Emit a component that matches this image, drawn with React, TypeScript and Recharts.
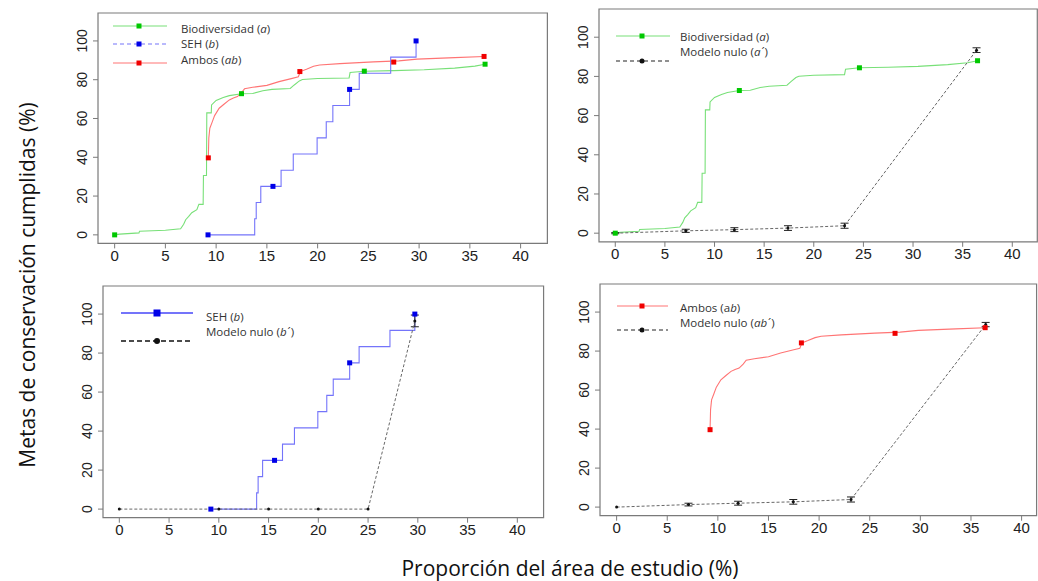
import React from 'react';
import { ComposedChart, Line, XAxis, YAxis, ReferenceArea, ErrorBar } from 'recharts';

// ---------- data ----------
const xTicks = [0, 5, 10, 15, 20, 25, 30, 35, 40];
const yTicks = [0, 20, 40, 60, 80, 100];

// Biodiversidad (a) curve
const biodiversidad = [
  { x: 0, y: 0 }, { x: 0.5, y: 0.4 }, { x: 2.4, y: 1 }, { x: 2.45, y: 1.9 }, { x: 5, y: 2.4 },
  { x: 6.5, y: 3.1 }, { x: 6.8, y: 5.5 }, { x: 7.0, y: 7.8 }, { x: 7.3, y: 9.5 }, { x: 7.6, y: 11.4 },
  { x: 8.1, y: 13 }, { x: 8.3, y: 15.7 }, { x: 8.72, y: 15.7 }, { x: 8.75, y: 30.6 }, { x: 9.05, y: 30.6 },
  { x: 9.08, y: 62.9 }, { x: 9.52, y: 62.9 }, { x: 9.55, y: 67 }, { x: 10, y: 69.3 }, { x: 10.7, y: 70.8 },
  { x: 11.3, y: 71.8 }, { x: 12.5, y: 72.8 }, { x: 13.6, y: 72.9 }, { x: 14.6, y: 74.3 }, { x: 15.5, y: 75 },
  { x: 17.3, y: 75.5 }, { x: 17.7, y: 77.3 }, { x: 18.2, y: 79.4 }, { x: 18.5, y: 80.1 }, { x: 20, y: 80.6 },
  { x: 23.1, y: 80.9 }, { x: 23.2, y: 83.7 }, { x: 24.6, y: 84.4 }, { x: 27.5, y: 84.7 }, { x: 30.5, y: 85.1 },
  { x: 33.5, y: 86 }, { x: 35.5, y: 87 }, { x: 36.5, y: 88 },
];
const biodiversidadMarks = [
  { x: 0, y: 0 }, { x: 12.5, y: 72.8 }, { x: 24.6, y: 84.4 }, { x: 36.5, y: 88 },
];

// SEH (b) step curve
const seh = [
  { x: 9.2, y: 0 }, { x: 13.8, y: 8.33 }, { x: 13.95, y: 16.67 }, { x: 14.4, y: 25 }, { x: 16.4, y: 33.33 },
  { x: 17.6, y: 41.67 }, { x: 19.95, y: 50 }, { x: 20.85, y: 58.33 }, { x: 21.5, y: 66.67 }, { x: 23.15, y: 75 },
  { x: 24.1, y: 83.33 }, { x: 27.2, y: 91.67 }, { x: 29.7, y: 100 },
];
const sehMarks = [
  { x: 9.2, y: 0 }, { x: 15.6, y: 25 }, { x: 23.15, y: 75 }, { x: 29.7, y: 100 },
];

// Ambos (ab) curve
const ambos = [
  { x: 9.23, y: 39.7 }, { x: 9.28, y: 50 }, { x: 9.38, y: 55 }, { x: 9.6, y: 58 }, { x: 9.85, y: 61.5 },
  { x: 10.3, y: 65.3 }, { x: 10.8, y: 67.5 }, { x: 11.3, y: 69.6 }, { x: 11.7, y: 70.6 }, { x: 12.1, y: 71.3 },
  { x: 12.5, y: 73.3 }, { x: 12.8, y: 75.3 }, { x: 13.6, y: 76.1 }, { x: 15, y: 77.1 }, { x: 16.2, y: 79 },
  { x: 17.5, y: 80.7 }, { x: 18.1, y: 81.5 }, { x: 18.3, y: 84.2 }, { x: 18.9, y: 85.4 }, { x: 19.6, y: 86.9 },
  { x: 20.2, y: 87.6 }, { x: 22.2, y: 88.3 }, { x: 25.5, y: 89.2 }, { x: 28, y: 89.7 }, { x: 29.8, y: 90.6 },
  { x: 33.5, y: 91.4 }, { x: 36.4, y: 92 },
];
const ambosMarks = [
  { x: 9.23, y: 39.7 }, { x: 18.25, y: 84.2 }, { x: 27.5, y: 89.1 }, { x: 36.4, y: 92 },
];

// Null models with error (e)
const nuloA = [
  { x: 0, y: 0, e: 0.3 }, { x: 7.1, y: 1.2, e: 0.8 }, { x: 12, y: 1.8, e: 1 },
  { x: 17.4, y: 2.6, e: 1.2 }, { x: 23.1, y: 3.8, e: 1.3 }, { x: 36.4, y: 93.4, e: 1.2 },
];
const nuloB = [
  { x: 0, y: 0, e: 0 }, { x: 10, y: 0, e: 0 }, { x: 15, y: 0, e: 0 },
  { x: 20, y: 0, e: 0 }, { x: 25, y: 0, e: 0 }, { x: 29.7, y: 96.5, e: 3 },
];
const nuloAB = [
  { x: 0, y: 0, e: 0 }, { x: 7.1, y: 1.3, e: 0.7 }, { x: 12, y: 2, e: 1 },
  { x: 17.45, y: 2.7, e: 1.2 }, { x: 23.15, y: 3.9, e: 1.3 }, { x: 36.45, y: 93.6, e: 1.1 },
];

// ---------- styles ----------
const GREEN_LINE = '#78e078';
const GREEN = '#00c800';
const RED_LINE = '#ff7474';
const RED = '#f00000';
const BLUE_LINE = '#7474fa';
const BLUE = '#0000e8';
const BOX = '#7a7a7a';
const TICKFONT = '"Liberation Sans", Arial, sans-serif';
const LABELFONT = '"Open Sans", "Noto Sans", sans-serif';
const Y_DOMAIN: [number, number] = [-4.4, 114.4];

const XTick = (props: any) => {
  const { x, y, payload } = props;
  return (
    <text x={x} y={y} dy="0.71em" textAnchor="middle" fontFamily={TICKFONT} fontSize={15} fill="#222">
      {payload.value}
    </text>
  );
};
const YTick = (props: any) => {
  const { x, y, payload } = props;
  return (
    <g transform={`translate(${x},${y})`}>
      <text transform="rotate(-90)" textAnchor="middle" dy="0.36em" fontFamily={TICKFONT} fontSize={14} fill="#222">
        {payload.value}
      </text>
    </g>
  );
};

const squareDot = (color: string, s: number) => (props: any) => {
  const { cx, cy, index } = props;
  return <rect key={`sq-${index}`} x={cx - s / 2} y={cy - s / 2} width={s} height={s} fill={color} />;
};
const circleDot = (props: any) => {
  const { cx, cy, index } = props;
  return <circle key={`c-${index}`} cx={cx} cy={cy} r={1.5} fill="#111" />;
};

type Box = { l: number; r: number; t: number; b: number };

function curve(key: string, data: any[], color: string, type: any = 'linear') {
  return (
    <Line key={key} data={data} dataKey="y" type={type} stroke={color} strokeWidth={1.1}
      dot={false} activeDot={false} isAnimationActive={false} />
  );
}
function marks(key: string, data: any[], color: string) {
  return (
    <Line key={key} data={data} dataKey="y" stroke="none" dot={squareDot(color, 5)}
      activeDot={false} isAnimationActive={false} />
  );
}
function nulo(key: string, data: any[]) {
  return (
    <Line key={key} data={data} dataKey="y" type="linear" stroke="#666" strokeWidth={1}
      strokeDasharray="3 2" dot={circleDot} activeDot={false} isAnimationActive={false}>
      <ErrorBar dataKey="e" width={4} stroke="#222" strokeWidth={1} direction="y" />
    </Line>
  );
}

function Panel({ box, xMax, series }: { box: Box; xMax: number; series: any[] }) {
  const ML = 45;
  const MB = 30;
  const W = box.r - box.l + ML + 2;
  const H = box.b - box.t + 2 + MB;
  const xDomain: [number, number] = [-1.64, xMax];
  return (
    <div style={{ position: 'absolute', left: box.l - ML, top: box.t - 2 }}>
      <ComposedChart width={W} height={H} margin={{ top: 2, right: 2, left: 0, bottom: 0 }}>
        <XAxis type="number" dataKey="x" domain={xDomain} ticks={xTicks} allowDataOverflow height={MB}
          tickSize={5} tickMargin={2} axisLine={false} tickLine={{ stroke: BOX }} tick={XTick} interval={0} />
        <YAxis type="number" domain={Y_DOMAIN} ticks={yTicks} allowDataOverflow width={ML}
          tickSize={5} tickMargin={11} axisLine={false} tickLine={{ stroke: BOX }} tick={YTick} interval={0} />
        <ReferenceArea x1={xDomain[0]} x2={xDomain[1]} y1={Y_DOMAIN[0]} y2={Y_DOMAIN[1]}
          fill="none" fillOpacity={0} stroke={BOX} strokeWidth={1.2} />
        {series}
      </ComposedChart>
    </div>
  );
}

// legend helpers (SVG overlay)
const LFS = 11.5;
function LegendLine({ x1, x2, y, color, dash, w = 1.2 }: any) {
  return <line x1={x1} x2={x2} y1={y} y2={y} stroke={color} strokeWidth={w} strokeDasharray={dash} />;
}
function LText({ x, y, children }: any) {
  return (
    <text x={x} y={y} dy="0.36em" fontFamily={LABELFONT} fontSize={LFS} fill="#333">{children}</text>
  );
}

export default function App() {
  return (
    <div style={{ position: 'absolute', left: 0, top: 0, width: 1038, height: 581, overflow: 'hidden', background: '#fff' }}>
      <Panel box={{ l: 98.4, r: 547.8, t: 13.1, b: 243.5 }} xMax={42.64}
        series={[
          curve('g', biodiversidad, GREEN_LINE),
          curve('r', ambos, RED_LINE),
          curve('b', seh, BLUE_LINE, 'stepAfter'),
          marks('gm', biodiversidadMarks, GREEN),
          marks('rm', ambosMarks, RED),
          marks('bm', sehMarks, BLUE),
        ]} />
      <Panel box={{ l: 598.7, r: 1037, t: 8.8, b: 241.6 }} xMax={42.52}
        series={[
          curve('g', biodiversidad, GREEN_LINE),
          nulo('n', nuloA),
          marks('gm', biodiversidadMarks, GREEN),
        ]} />
      <Panel box={{ l: 102.7, r: 543.3, t: 285.9, b: 517.6 }} xMax={42.64}
        series={[
          curve('b', seh, BLUE_LINE, 'stepAfter'),
          nulo('n', nuloB),
          marks('bm', sehMarks, BLUE),
        ]} />
      <Panel box={{ l: 600.4, r: 1037, t: 283.9, b: 515.6 }} xMax={41.48}
        series={[
          curve('r', ambos, RED_LINE),
          nulo('n', nuloAB),
          marks('rm', ambosMarks, RED),
        ]} />

      <svg width={1038} height={581} style={{ position: 'absolute', left: 0, top: 0, pointerEvents: 'none' }}>
        {/* Panel 1 legend */}
        <LegendLine x1={113} x2={167} y={26} color={GREEN_LINE} />
        <rect x={136.5} y={23.5} width={5} height={5} fill={GREEN} />
        <LText x={181} y={29}>Biodiversidad (<tspan fontStyle="italic">a</tspan>)</LText>
        <LegendLine x1={113} x2={167} y={44} color={BLUE_LINE} dash="4 3" />
        <rect x={136.5} y={41.5} width={5} height={5} fill={BLUE} />
        <LText x={181} y={44}>SEH (<tspan fontStyle="italic">b</tspan>)</LText>
        <LegendLine x1={113} x2={167} y={63} color={RED_LINE} />
        <rect x={136.5} y={60.5} width={5} height={5} fill={RED} />
        <LText x={181} y={60}>Ambos (<tspan fontStyle="italic">ab</tspan>)</LText>

        {/* Panel 2 legend */}
        <LegendLine x1={616} x2={670} y={36} color={GREEN_LINE} />
        <rect x={639.5} y={33.5} width={5} height={5} fill={GREEN} />
        <LText x={680} y={37}>Biodiversidad (<tspan fontStyle="italic">a</tspan>)</LText>
        <LegendLine x1={616} x2={670} y={61} color="#222" dash="4 3" />
        <circle cx={642} cy={61} r={2.5} fill="#111" />
        <LText x={680} y={52}>Modelo nulo (<tspan fontStyle="italic">a</tspan><tspan dx={1}>´</tspan>)</LText>

        {/* Panel 3 legend */}
        <LegendLine x1={121} x2={193} y={313} color={BLUE_LINE} w={2} />
        <rect x={153.5} y={309.5} width={7} height={7} fill={BLUE} />
        <LText x={206} y={317}>SEH (<tspan fontStyle="italic">b</tspan>)</LText>
        <LegendLine x1={121} x2={190} y={341} color="#111" dash="5 3" w={1.4} />
        <circle cx={157} cy={341} r={3} fill="#111" />
        <LText x={206} y={332}>Modelo nulo (<tspan fontStyle="italic">b</tspan><tspan dx={1}>´</tspan>)</LText>

        {/* Panel 4 legend */}
        <LegendLine x1={617} x2={668} y={306} color={RED_LINE} />
        <rect x={639.5} y={303.5} width={5} height={5} fill={RED} />
        <LText x={680} y={308}>Ambos (a<tspan fontStyle="italic">b</tspan>)</LText>
        <LegendLine x1={617} x2={668} y={330} color="#222" dash="4 3" />
        <circle cx={642} cy={330} r={2.5} fill="#111" />
        <LText x={680} y={323}>Modelo nulo (<tspan fontStyle="italic">ab</tspan><tspan dx={1}>´</tspan>)</LText>

        {/* Axis titles */}
        <text x={570} y={568} dy="0.36em" textAnchor="middle" fontFamily={LABELFONT} fontSize={21} fill="#111">
          Proporción del área de estudio (%)
        </text>
        <g transform="translate(27,285)">
          <text transform="rotate(-90)" textAnchor="middle" dy="0.36em" fontFamily={LABELFONT} fontSize={21} fill="#111">
            Metas de conservación cumplidas (%)
          </text>
        </g>
      </svg>
    </div>
  );
}
